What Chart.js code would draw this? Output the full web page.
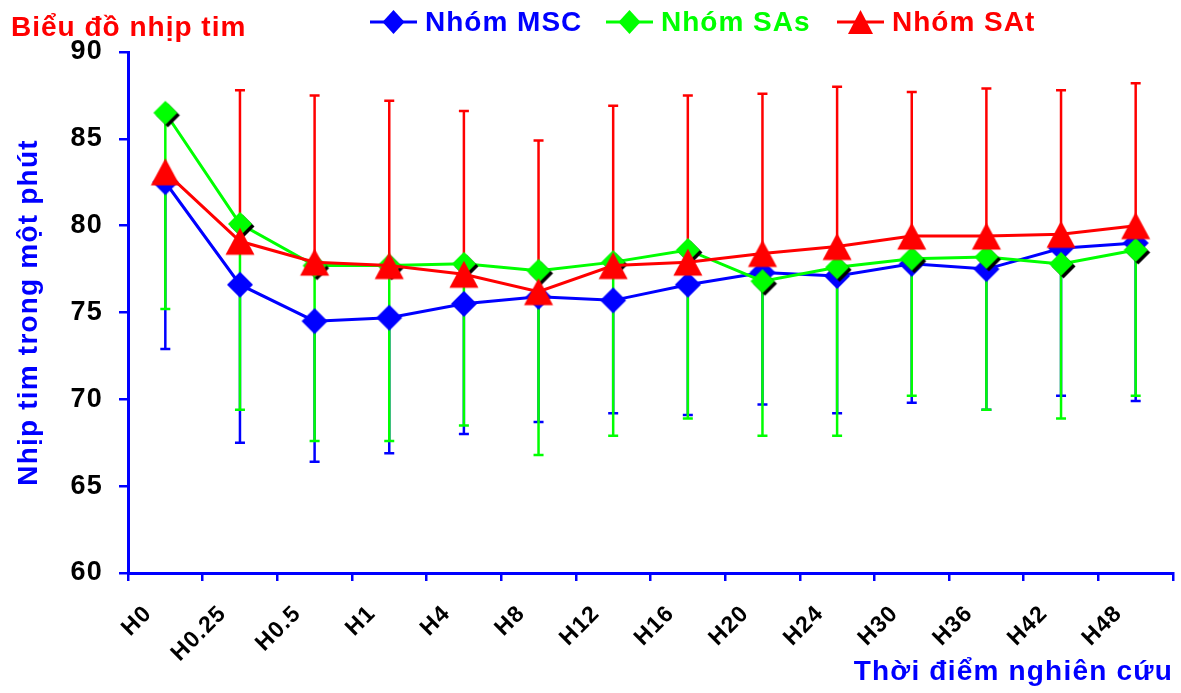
<!DOCTYPE html>
<html>
  <head>
    <meta charset="utf-8">
    <title>Biểu đồ nhịp tim</title>
    <script src="https://cdn.jsdelivr.net/npm/chart.js@4.4.0/dist/chart.umd.min.js"></script>
    <style>
      body { margin: 0; background: #fff; }
      #wrap { position: relative; width: 1181px; height: 693px; font-family: "Liberation Sans", Arial, sans-serif; font-weight: bold; letter-spacing: 1px; }
      #title { position: absolute; left: 11px; top: 9px; font-size: 28px; line-height: 36px; color: #ff0000; }
      .leg { position: absolute; top: 5px; font-size: 28px; line-height: 34px; display: flex; align-items: center; }
      .leg svg { margin-right: 8px; }
      canvas { position: absolute; left: 0; top: 0; }
    </style>
  </head>
  <body>
    <div id="wrap">
      <canvas id="myChart" width="1181" height="693"></canvas>
      <div id="title">Biểu đồ nhịp tim</div>
      <div class="leg" style="left:370px;color:#0000ff">
        <svg width="47" height="28"><line x1="0" y1="14" x2="47" y2="14" stroke="#0000ff" stroke-width="3"/><polygon points="23.5,2 34.5,14 23.5,26 12.5,14" fill="#0000ff"/></svg>Nhóm MSC
      </div>
      <div class="leg" style="left:606px;color:#00ff00">
        <svg width="47" height="28"><line x1="0" y1="14" x2="47" y2="14" stroke="#00ff00" stroke-width="3"/><polygon points="23.5,2 34.5,14 23.5,26 12.5,14" fill="#00ff00"/></svg>Nhóm SAs
      </div>
      <div class="leg" style="left:837px;color:#ff0000">
        <svg width="47" height="28"><line x1="0" y1="14" x2="47" y2="14" stroke="#ff0000" stroke-width="3"/><polygon points="23.5,2 36,26 11,26" fill="#ff0000"/></svg>Nhóm SAt
      </div>
    </div>

    <script>
      const labels = ['H0', 'H0.25', 'H0.5', 'H1', 'H4', 'H8', 'H12', 'H16', 'H20', 'H24', 'H30', 'H36', 'H42', 'H48']

      // mean values
      const msc = [82.5, 76.6, 74.5, 74.7, 75.5, 75.9, 75.7, 76.6, 77.3, 77.1, 77.8, 77.5, 78.7, 79.0]
      const sas = [86.5, 80.1, 77.7, 77.7, 77.8, 77.4, 77.9, 78.6, 76.8, 77.6, 78.1, 78.2, 77.8, 78.6]
      const sat = [83.1, 79.1, 77.9, 77.7, 77.2, 76.2, 77.7, 77.9, 78.4, 78.8, 79.4, 79.4, 79.5, 80.0]

      // error bar ends (MSC, SAs go down, SAt goes up)
      const mscLow = [72.9, 67.5, 66.4, 66.9, 68.0, 68.7, 69.2, 69.1, 69.7, 69.2, 69.8, 69.4, 70.2, 69.9]
      const sasLow = [75.2, 69.4, 67.6, 67.6, 68.5, 66.8, 67.9, 68.9, 67.9, 67.9, 70.2, 69.4, 68.9, 70.2]
      const satHigh = [null, 87.8, 87.5, 87.2, 86.6, 84.9, 86.9, 87.5, 87.6, 88.0, 87.7, 87.9, 87.8, 88.2]

      const yTicks = [60, 65, 70, 75, 80, 85, 90]

      // marker images
      function diamond(color, r, shadow){
        const c = document.createElement('canvas')
        c.width = 2 * r + 8
        c.height = 2 * r + 8
        const g = c.getContext('2d')
        const m = c.width / 2
        const draw = (cx, cy, fill) => {
          g.fillStyle = fill
          g.beginPath()
          g.moveTo(cx, cy - r); g.lineTo(cx + r, cy); g.lineTo(cx, cy + r); g.lineTo(cx - r, cy)
          g.closePath()
          g.fill()
        }
        if (shadow) draw(m + 2.5, m + 2.5, '#000')
        draw(m, m, color)
        return c
      }
      function triangle(color){
        const c = document.createElement('canvas')
        c.width = 32
        c.height = 30
        const g = c.getContext('2d')
        g.fillStyle = color
        g.beginPath()
        g.moveTo(16, 1.5); g.lineTo(30.5, 28.5); g.lineTo(1.5, 28.5)
        g.closePath()
        g.fill()
        return c
      }

      // slightly wider text, like the original
      const spacing = {
        id: 'spacing',
        beforeInit(chart){ chart.ctx.letterSpacing = '1.2px' },
        beforeDraw(chart){ chart.ctx.letterSpacing = '1.2px' }
      }

      const errorBars = {
        id: 'errorBars',
        beforeDatasetsDraw(chart){
          const ctx = chart.ctx
          const xs = chart.scales.x
          const ys = chart.scales.y
          const sets = [[msc, mscLow, '#0000ff'], [sas, sasLow, '#00ff00'], [sat, satHigh, '#ff0000']]
          ctx.save()
          ctx.lineWidth = 2.5
          sets.forEach(([mid, end, color]) => {
            ctx.strokeStyle = color
            mid.forEach((v, i) => {
              if (end[i] == null) return
              const px = xs.getPixelForValue(i)
              const y0 = ys.getPixelForValue(v)
              const y1 = ys.getPixelForValue(end[i])
              ctx.beginPath()
              ctx.moveTo(px, y0); ctx.lineTo(px, y1)
              ctx.moveTo(px - 5, y1); ctx.lineTo(px + 5, y1)
              ctx.stroke()
            })
          })
          ctx.restore()
        }
      }

      Chart.defaults.font.family = '"Liberation Sans", Arial, sans-serif'

      new Chart('myChart', {
        type: 'line',
        data: {
          labels: labels,
          datasets: [
            { label: 'Nhóm MSC', data: msc, borderColor: '#0000ff', borderWidth: 3, tension: 0,
              pointStyle: diamond('#0000ff', 13, false), pointRadius: 10, order: 3 },
            { label: 'Nhóm SAs', data: sas, borderColor: '#00ff00', borderWidth: 3, tension: 0,
              pointStyle: diamond('#00ff00', 12, true), pointRadius: 10, order: 2 },
            { label: 'Nhóm SAt', data: sat, borderColor: '#ff0000', borderWidth: 3, tension: 0,
              pointStyle: triangle('#ff0000'), pointRadius: 10, order: 1 }
          ]
        },
        options: {
          responsive: false,
          animation: false,
          devicePixelRatio: 1,
          layout: { autoPadding: false, padding: { top: 52, right: 8, left: 0, bottom: 0 } },
          plugins: { legend: { display: false }, tooltip: { enabled: false } },
          scales: {
            x: {
              offset: true,
              grid: { offset: true, drawOnChartArea: false, color: '#0000ff', lineWidth: 2.5, tickLength: 8 },
              border: { color: '#0000ff', width: 3 },
              ticks: { color: '#000', font: { size: 23, weight: 'bold' }, minRotation: 45, maxRotation: 45,
                       labelOffset: -17, padding: 19, autoSkip: false },
              title: { display: true, text: 'Thời điểm nghiên cứu', align: 'end', color: '#0000ff',
                       font: { size: 28, weight: 'bold' }, padding: { top: 0, bottom: 4 } },
              afterFit(scale){
                scale.height = 120
                scale.paddingLeft = 0
                scale.paddingRight = 0
              }
            },
            y: {
              min: yTicks[0],
              max: yTicks[yTicks.length - 1],
              afterBuildTicks(scale){ scale.ticks = yTicks.map(v => ({ value: v })) },
              grid: { drawOnChartArea: false, color: '#0000ff', lineWidth: 2.5, tickLength: 9 },
              border: { color: '#0000ff', width: 3 },
              ticks: { color: '#000', font: { size: 27, weight: 'bold' }, padding: 16 },
              title: { display: true, text: 'Nhịp tim trong một phút', color: '#0000ff',
                       font: { size: 28, weight: 'bold' }, padding: { top: 12, bottom: 0 } },
              afterFit(scale){ scale.width = 128 }
            }
          }
        },
        plugins: [spacing, errorBars]
      })
    </script>
  </body>
</html>
